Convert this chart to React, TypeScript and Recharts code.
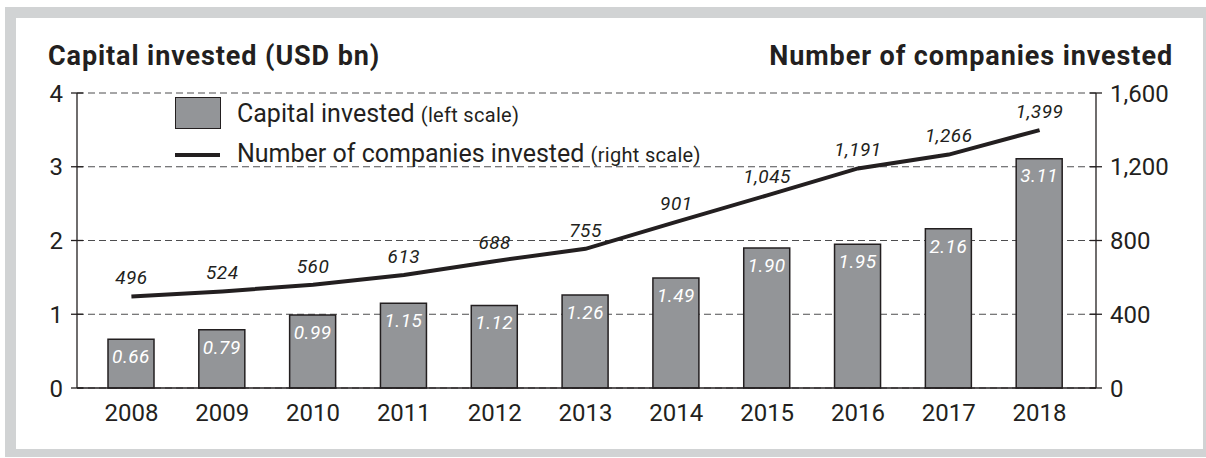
import React from 'react'
import { ComposedChart, Bar, Line, XAxis, YAxis, CartesianGrid, LabelList, Legend } from 'recharts'

// values
const years = ['2008', '2009', '2010', '2011', '2012', '2013', '2014', '2015', '2016', '2017', '2018']
const capitalInvested = [0.66, 0.79, 0.99, 1.15, 1.12, 1.26, 1.49, 1.9, 1.95, 2.16, 3.11]
const companiesInvested = [496, 524, 560, 613, 688, 755, 901, 1045, 1191, 1266, 1399]
const leftTicks = [0, 1, 2, 3, 4]
const rightTicks = [0, 400, 800, 1200, 1600]
const legendNotes: Record<string, string> = {
  capital: '(left scale)',
  companies: '(right scale)',
}

const data = years.map((year, i) => ({
  year,
  capital: capitalInvested[i],
  companies: companiesInvested[i],
}))

const INK = '#231f20'
const BAR_FILL = '#939598'
const FRAME = '#d1d3d4'
const FONT = 'Roboto, "DejaVu Sans", sans-serif'
const TICK_SIZE = 6
const TICK_MARGIN = 8

const LeftTick = (props: any) => {
  const { x, y, payload } = props
  // tick text sits tickSize + tickMargin left of the axis line
  const axisX = x + TICK_SIZE + TICK_MARGIN
  return (
    <g>
      <line x1={axisX - 6} x2={axisX + 6} y1={y} y2={y} stroke={INK} strokeWidth={1.3} />
      <text x={x} y={y} dy="0.36em" textAnchor="end" fill={INK} fontSize={24} fontFamily={FONT}>
        {payload.value}
      </text>
    </g>
  )
}

const RightTick = (props: any) => {
  const { x, y, payload } = props
  const axisX = x - TICK_SIZE - TICK_MARGIN
  return (
    <g>
      <line x1={axisX - 6} x2={axisX + 6} y1={y} y2={y} stroke={INK} strokeWidth={1.3} />
      <text x={x} y={y} dy="0.36em" textAnchor="start" fill={INK} fontSize={24} fontFamily={FONT}>
        {Number(payload.value).toLocaleString('en-US')}
      </text>
    </g>
  )
}

const BarValue = (props: any) => {
  const { x, y, width, value } = props
  return (
    <text
      x={x + width / 2}
      y={y + 17}
      dy="0.36em"
      textAnchor="middle"
      fill="#fff"
      fontSize={19}
      fontStyle="italic"
      fontFamily={FONT}
      letterSpacing={0.5}
    >
      {Number(value).toFixed(2)}
    </text>
  )
}

const LineValue = (props: any) => {
  const { x, y, value } = props
  return (
    <text
      x={x}
      y={y - 19}
      dy="0.36em"
      textAnchor="middle"
      fill={INK}
      fontSize={19}
      fontStyle="italic"
      fontFamily={FONT}
      letterSpacing={0.5}
    >
      {Number(value).toLocaleString('en-US')}
    </text>
  )
}

const LegendContent = (props: any) => {
  const items = props.payload || []
  return (
    <div style={{ fontFamily: FONT, color: INK }}>
      {items.map((item: any) => (
        <div key={item.dataKey} style={{ display: 'flex', alignItems: 'center', height: 40 }}>
          <div style={{ width: 46, display: 'flex', alignItems: 'center' }}>
            {item.dataKey === 'capital' ? (
              <div
                style={{
                  width: 46,
                  height: 32,
                  boxSizing: 'border-box',
                  background: BAR_FILL,
                  border: `1.5px solid ${INK}`,
                }}
              />
            ) : (
              <div style={{ marginTop: 4, width: 45, height: 4, background: INK }} />
            )}
          </div>
          <span style={{ marginLeft: 16, fontSize: 25, whiteSpace: 'nowrap' }}>
            {item.value}{' '}
            <span style={{ fontSize: 20, letterSpacing: 0.3 }}>{legendNotes[item.dataKey]}</span>
          </span>
        </div>
      ))}
    </div>
  )
}

const titleStyle: React.CSSProperties = {
  position: 'absolute',
  top: 40,
  fontFamily: FONT,
  fontWeight: 700,
  fontSize: 27,
  letterSpacing: 0.9,
  color: INK,
  whiteSpace: 'nowrap',
}

export default function App() {
  return (
    <div
      style={{
        position: 'absolute',
        left: 0,
        top: 0,
        width: 1206,
        height: 458,
        overflow: 'hidden',
        background: '#fff',
      }}
    >
      <div
        style={{
          position: 'absolute',
          left: 5,
          top: 7,
          width: 1209,
          height: 450,
          boxSizing: 'border-box',
          borderStyle: 'solid',
          borderColor: FRAME,
          borderWidth: '11px 11px 8px 11px',
        }}
      />
      <div style={{ ...titleStyle, left: 48 }}>Capital invested (USD bn)</div>
      <div style={{ ...titleStyle, right: 33 }}>Number of companies invested</div>
      <div style={{ position: 'absolute', left: 0, top: 0 }}>
        <ComposedChart
          width={1206}
          height={458}
          data={data}
          margin={{ top: 93, right: 50, bottom: 40, left: 37 }}
        >
          <CartesianGrid
            yAxisId="left"
            vertical={false}
            stroke="#4d4d4f"
            strokeWidth={1}
            strokeDasharray="7 4"
          />
          <XAxis
            dataKey="year"
            height={30}
            padding={{ left: 9, right: 11 }}
            axisLine={{ stroke: INK, strokeWidth: 1.3 }}
            tickLine={false}
            tickSize={6}
            tickMargin={10}
            tick={{ fill: INK, fontSize: 24, fontFamily: FONT }}
          />
          <YAxis
            yAxisId="left"
            width={40}
            domain={[0, 4]}
            ticks={leftTicks}
            interval={0}
            axisLine={{ stroke: INK, strokeWidth: 1.3 }}
            tickLine={false}
            tickSize={TICK_SIZE}
            tickMargin={TICK_MARGIN}
            tick={<LeftTick />}
          />
          <YAxis
            yAxisId="right"
            orientation="right"
            width={60}
            domain={[0, 1600]}
            ticks={rightTicks}
            interval={0}
            axisLine={{ stroke: INK, strokeWidth: 1.3 }}
            tickLine={false}
            tickSize={TICK_SIZE}
            tickMargin={TICK_MARGIN}
            tick={<RightTick />}
          />
          <Legend
            layout="vertical"
            align="center"
            verticalAlign="middle"
            content={<LegendContent />}
            wrapperStyle={{ left: 175, top: 93, width: 'auto', height: 'auto' }}
          />
          <Bar
            yAxisId="left"
            dataKey="capital"
            name="Capital invested"
            barSize={46}
            fill={BAR_FILL}
            stroke={INK}
            strokeWidth={1.5}
            isAnimationActive={false}
          >
            <LabelList dataKey="capital" content={<BarValue />} />
          </Bar>
          <Line
            yAxisId="right"
            dataKey="companies"
            name="Number of companies invested"
            type="linear"
            stroke={INK}
            strokeWidth={4}
            dot={false}
            activeDot={false}
            isAnimationActive={false}
          >
            <LabelList dataKey="companies" content={<LineValue />} />
          </Line>
        </ComposedChart>
      </div>
    </div>
  )
}
